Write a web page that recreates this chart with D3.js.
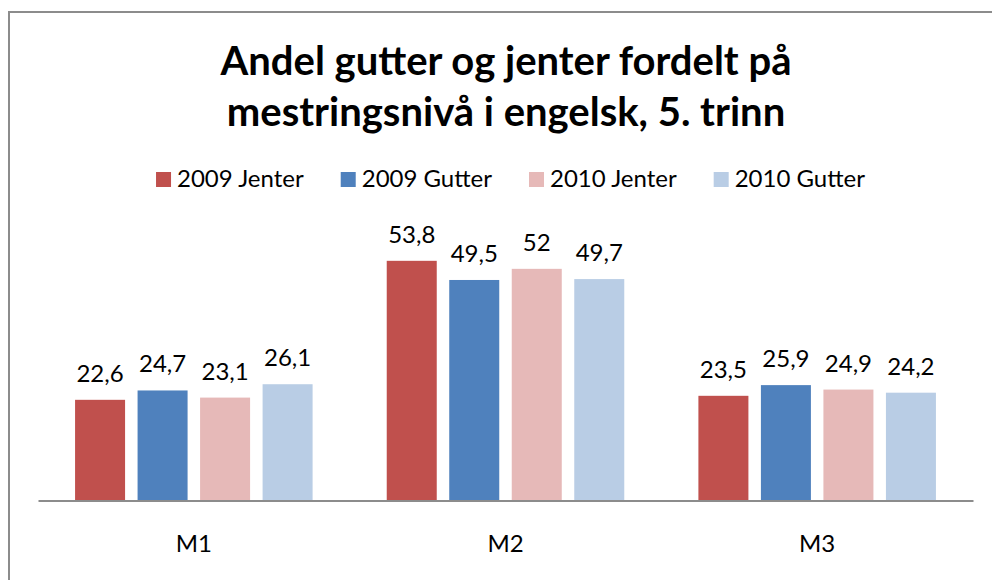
<!DOCTYPE html>
<html>
<head>
<meta charset="utf-8">
<title>Andel gutter og jenter fordelt på mestringsnivå</title>
<script src="https://d3js.org/d3.v7.min.js"></script>
<style>
  body { margin: 0; background: #fff; }
  text { font-family: Lato, "Open Sans", sans-serif; fill: #000; }
</style>
</head>
<body>
<svg id="chart"></svg>
<script>
  // data
  const categories = ["M1", "M2", "M3"];
  const seriesNames = ["2009 Jenter", "2009 Gutter", "2010 Jenter", "2010 Gutter"];
  const jenter2009 = [22.6, 53.8, 23.5];
  const gutter2009 = [24.7, 49.5, 25.9];
  const jenter2010 = [23.1, 52, 24.9];
  const gutter2010 = [26.1, 49.7, 24.2];
  const titleLines = ["Andel gutter og jenter fordelt på", "mestringsnivå i engelsk, 5. trinn"];

  const values = [jenter2009, gutter2009, jenter2010, gutter2010];
  const colors = ["#C0504D", "#4F81BD", "#E6B9B8", "#B9CDE5"];

  const W = 992, H = 580;
  const svg = d3.select("#chart").attr("width", W).attr("height", H);

  // frame (runs off right and bottom edge like the original)
  svg.append("rect")
    .attr("x", 9).attr("y", 12)
    .attr("width", 1100).attr("height", 700)
    .attr("fill", "#fff")
    .attr("stroke", "#8c8c8c")
    .attr("stroke-width", 2);

  const x0 = d3.scaleBand().domain(categories).range([38, 973]);
  const x1 = d3.scaleBand().domain(seriesNames).range([0, x0.bandwidth()])
    .paddingInner(0.2).paddingOuter(0.593);
  const y = d3.scaleLinear().domain([0, 60]).range([500.5, 233.2]);

  const fmt = v => String(v).replace(".", ",");

  // title
  svg.append("g").selectAll("text")
    .data(titleLines)
    .join("text")
    .attr("x", 506)
    .attr("y", (d, i) => 75 + i * 50.5)
    .attr("text-anchor", "middle")
    .style("font-size", "40px")
    .style("font-weight", "bold")
    .text(d => d);

  // bars
  const rows = [];
  seriesNames.forEach((s, si) => {
    categories.forEach((c, ci) => rows.push({ s, si, c, v: values[si][ci] }));
  });

  const bars = svg.append("g");
  bars.selectAll("rect")
    .data(rows)
    .join("rect")
    .attr("x", d => x0(d.c) + x1(d.s))
    .attr("y", d => y(d.v))
    .attr("width", x1.bandwidth())
    .attr("height", d => y(0) - y(d.v))
    .attr("fill", d => colors[d.si]);

  bars.selectAll("text")
    .data(rows)
    .join("text")
    .attr("x", d => x0(d.c) + x1(d.s) + x1.bandwidth() / 2)
    .attr("y", d => y(d.v) - 18)
    .attr("text-anchor", "middle")
    .style("font-size", "24px")
    .text(d => fmt(d.v));

  // category axis
  const xAxis = svg.append("g")
    .attr("transform", `translate(0,${y(0)})`)
    .call(d3.axisBottom(x0).tickSize(0).tickPadding(34));
  xAxis.select(".domain").attr("stroke", "#8c8c8c").attr("stroke-width", 2);
  xAxis.selectAll(".tick text")
    .style("font-size", "24px")
    .style("font-family", "Lato, sans-serif")
    .attr("fill", "#000");

  // legend
  const legend = svg.append("g");
  const items = legend.selectAll("g")
    .data(seriesNames)
    .join("g");
  items.append("rect")
    .attr("width", 15).attr("height", 15)
    .attr("y", 172)
    .attr("fill", (d, i) => colors[i]);
  items.append("text")
    .attr("x", 21)
    .attr("y", 187)
    .style("font-size", "24px")
    .text(d => d);

  let cursor = 0;
  items.each(function () {
    const g = d3.select(this);
    const w = 21 + g.select("text").node().getComputedTextLength();
    g.attr("transform", `translate(${cursor},0)`);
    cursor += w + 37;
  });
  const total = cursor - 37;
  legend.attr("transform", `translate(${510.5 - total / 2},0)`);
</script>
</body>
</html>
